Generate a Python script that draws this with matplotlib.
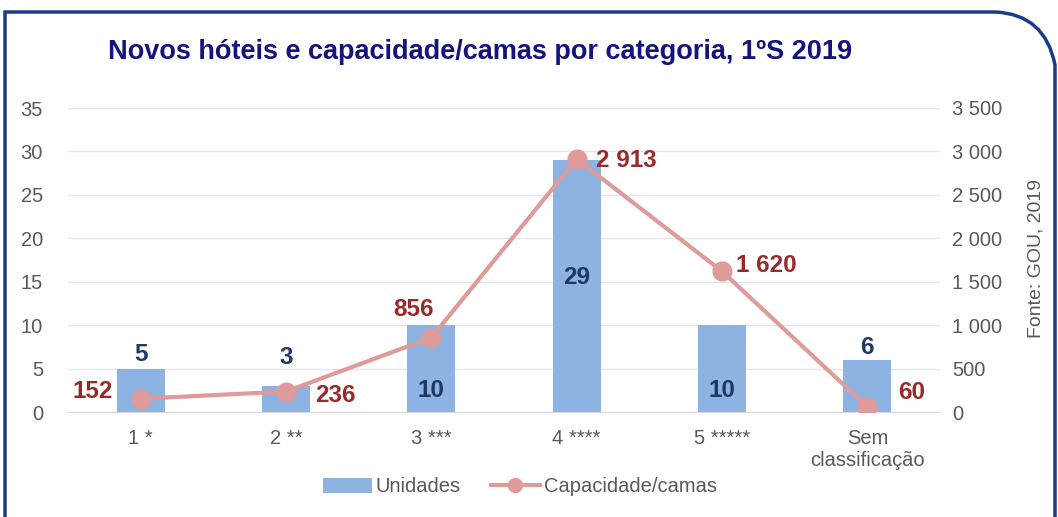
import matplotlib
matplotlib.use("Agg")
import matplotlib.pyplot as plt
from matplotlib.path import Path
from matplotlib.patches import PathPatch
from matplotlib.lines import Line2D
from matplotlib.patches import Patch

plt.rcParams['font.family'] = ['Liberation Sans', 'DejaVu Sans']

categories = ["1 *", "2 **", "3 ***", "4 ****", "5 *****", "Sem\nclassificação"]
unidades = [5, 3, 10, 29, 10, 6]
camas = [152, 236, 856, 2913, 1620, 60]
left_ticks = [0, 5, 10, 15, 20, 25, 30, 35]
right_ticks = [0, 500, 1000, 1500, 2000, 2500, 3000, 3500]
right_tick_labels = ["0", "500", "1 000", "1 500", "2 000", "2 500", "3 000", "3 500"]

W, H = 1058, 517
fig = plt.figure(figsize=(W / 100, H / 100), dpi=100)
fig.patch.set_facecolor("white")

ax = fig.add_axes([68 / W, 1 - 412 / H, (940 - 68) / W, (412 - 108) / H])
ax2 = ax.twinx()

x = list(range(len(categories)))
bar_color = "#8db3e2"
line_color = "#df9a9a"
navy = "#1f3864"
red = "#992a2a"
gray = "#595959"

ax.bar(x, unidades, width=0.33, color=bar_color, zorder=2)
ax.set_xlim(-0.5, len(categories) - 0.5)
ax.set_ylim(0, 35)
ax.set_yticks(left_ticks)
ax.grid(axis="y", color="#e6e6e6", linewidth=1, zorder=0)
ax.set_axisbelow(True)
ax2.plot(x, camas, color=line_color, linewidth=3, marker="o", markersize=13.5, zorder=3)
ax2.set_ylim(0, 3500)
ax2.set_yticks(right_ticks)
ax2.set_yticklabels(right_tick_labels)

for a in (ax, ax2):
    for s in a.spines.values():
        s.set_visible(False)
    a.tick_params(length=0, labelsize=14.5, labelcolor=gray)
ax.spines["bottom"].set_visible(True)
ax.spines["bottom"].set_color("#d9d9d9")
ax.set_xticks(x)
ax.set_xticklabels(categories)
ax.tick_params(axis="x", pad=12)
ax.tick_params(axis="y", pad=18)
ax2.tick_params(axis="y", pad=9)

# Bar value labels (units)
bar_lbl_kw = dict(color=navy, fontsize=17.5, fontweight="bold", ha="center", va="center")
bar_label_y = [6.6, 6.3, 2.5, 15.5, 2.5, 7.4]
for i, yy in enumerate(bar_label_y):
    ax.text(i, yy, str(unidades[i]), **bar_lbl_kw)

# Line value labels
def fmt(v):
    return f"{v:,}".replace(",", " ")

line_lbl_kw = dict(color=red, fontsize=17.5, fontweight="bold", va="center")
ax2.annotate(fmt(camas[0]), (0, camas[0]), xytext=(-20, 5), textcoords="offset points", ha="right", **line_lbl_kw)
ax2.annotate(fmt(camas[1]), (1, camas[1]), xytext=(21, -3), textcoords="offset points", ha="left", **line_lbl_kw)
ax2.annotate(fmt(camas[2]), (2, camas[2]), xytext=(-13, 20), textcoords="offset points", ha="center", **line_lbl_kw)
ax2.annotate(fmt(camas[3]), (3, camas[3]), xytext=(14, -1), textcoords="offset points", ha="left", **line_lbl_kw)
ax2.annotate(fmt(camas[4]), (4, camas[4]), xytext=(10, 4), textcoords="offset points", ha="left", **line_lbl_kw)
ax2.annotate(fmt(camas[5]), (5, camas[5]), xytext=(22, 10), textcoords="offset points", ha="left", **line_lbl_kw)

# Title
fig.text(480 / W, 1 - 52 / H, "Novos hóteis e capacidade/camas por categoria, 1ºS 2019",
         ha="center", va="center", fontsize=19.5, fontweight="bold", color="#14147a")

# Source
fig.text(1036 / W, 1 - 258 / H, "Fonte: GOU, 2019", rotation=90, ha="center", va="center",
         fontsize=14, color=gray)

# Legend
handles = [Patch(facecolor=bar_color, edgecolor="none"),
           Line2D([0], [0], color=line_color, linewidth=3, marker="o", markersize=10)]
fig.legend(handles, ["Unidades", "Capacidade/camas"], loc="center", bbox_to_anchor=(520 / W, 1 - 487 / H),
           ncol=2, frameon=False, fontsize=14.5, labelcolor=gray, handlelength=2.4, columnspacing=1.5,
           handletextpad=0.2)

# Frame with rounded top-right corner
verts = [(5, H + 5), (5, 12), (995, 12), (1045, 14), (1055, 65), (1055, H + 5)]
codes = [Path.MOVETO, Path.LINETO, Path.LINETO, Path.CURVE3, Path.CURVE3, Path.LINETO]
verts_fig = [(vx / W, 1 - vy / H) for vx, vy in verts]
frame = PathPatch(Path(verts_fig, codes), facecolor="none", edgecolor="#1a3a8a", linewidth=2.5,
                  transform=fig.transFigure, clip_on=False)
fig.patches.append(frame)

fig.savefig("out.png", dpi=100)
